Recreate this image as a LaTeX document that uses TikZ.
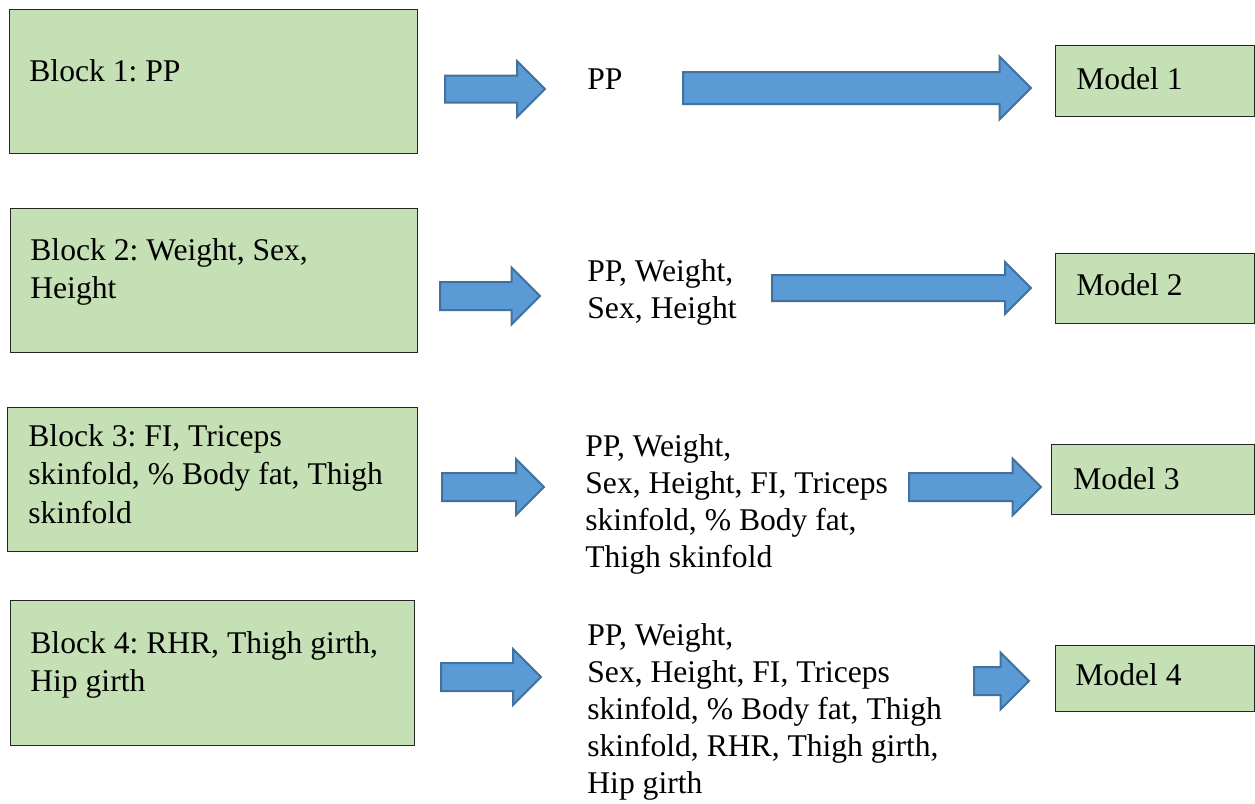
\documentclass[tikz,border=0pt]{standalone}
\usepackage{fontspec}
\setmainfont{LiberationSerif}[Extension=.ttf, UprightFont=*-Regular, BoldFont=*-Bold]
\usetikzlibrary{shapes.arrows}
\definecolor{blockgreen}{HTML}{C5E0B4}
\definecolor{arrowblue}{HTML}{5B9BD5}
\definecolor{arrowedge}{HTML}{41719C}
\frenchspacing

\begin{document}
\begin{tikzpicture}[x=0.5pt, y=-0.5pt,
  box/.style={draw=black!85, line width=0.6pt, fill=blockgreen, rectangle, inner sep=0pt, anchor=north west},
  txt/.style={anchor=base west, inner sep=0pt, align=left, font=\rmfamily\fontsize{15.8pt}{19.25pt}\selectfont},
  midtxt/.style={txt, font=\rmfamily\fontsize{15.8pt}{18.5pt}\selectfont},
  fatarrow/.style={single arrow, draw=arrowedge, line width=1pt, fill=arrowblue, inner xsep=0pt, anchor=tail}]
\useasboundingbox (0,0) rectangle (1255,804);

% Row 1 (text nodes sit on the baseline of their last line)
\node[box, minimum width=204pt, minimum height=72pt] (blk1) at (9,9) {};
\node[txt] (blk1txt) at (29,81) {Block 1: PP};
\node[fatarrow, minimum height=50pt, inner ysep=6.25pt, single arrow head extend=7.25pt] (arr1a) at (444,89) {};
\node[midtxt] (var1) at (587,89) {PP};
\node[fatarrow, minimum height=174pt, inner ysep=7.5pt, single arrow head extend=7.75pt] (arr1b) at (682,88) {};
\node[box, minimum width=99.5pt, minimum height=35.5pt] (mdl1) at (1055,45) {};
\node[txt] (mdl1txt) at (1076,89) {Model 1};

% Row 2
\node[box, minimum width=203.5pt, minimum height=72pt] (blk2) at (10,208) {};
\node[txt] (blk2txt) at (30,298.5) {Block 2: Weight, Sex,\\Height};
\node[fatarrow, minimum height=50pt, inner ysep=6.5pt, single arrow head extend=7.25pt] (arr2a) at (439,296) {};
\node[midtxt] (var2) at (587,318) {PP, Weight,\\Sex, Height};
\node[fatarrow, minimum height=129.5pt, inner ysep=6pt, single arrow head extend=6.5pt] (arr2b) at (771,288) {};
\node[box, minimum width=99.5pt, minimum height=35pt] (mdl2) at (1055,253) {};
\node[txt] (mdl2txt) at (1076,295) {Model 2};

% Row 3
\node[box, minimum width=205pt, minimum height=72pt] (blk3) at (7,407) {};
\node[txt] (blk3txt) at (28,523) {Block 3: FI, Triceps\\skinfold, \% Body fat, Thigh\\skinfold};
\node[fatarrow, minimum height=51pt, inner ysep=6.5pt, single arrow head extend=7pt] (arr3a) at (441,487) {};
\node[midtxt] (var3) at (585,567) {PP, Weight,\\Sex, Height, FI, Triceps\\skinfold, \% Body fat,\\Thigh skinfold};
\node[fatarrow, minimum height=66pt, inner ysep=6.5pt, single arrow head extend=7.25pt] (arr3b) at (908,487) {};
\node[box, minimum width=101.5pt, minimum height=35pt] (mdl3) at (1051,444) {};
\node[txt] (mdl3txt) at (1073,489) {Model 3};

% Row 4
\node[box, minimum width=202pt, minimum height=72.5pt] (blk4) at (10,600) {};
\node[txt] (blk4txt) at (30,691.5) {Block 4: RHR, Thigh girth,\\Hip girth};
\node[fatarrow, minimum height=50pt, inner ysep=6.5pt, single arrow head extend=7pt] (arr4a) at (440,677) {};
\node[midtxt] (var4) at (587,793) {PP, Weight,\\Sex, Height, FI, Triceps\\skinfold, \% Body fat, Thigh\\skinfold, RHR, Thigh girth,\\Hip girth};
\node[fatarrow, minimum height=27.5pt, inner ysep=6.5pt, single arrow head extend=7.25pt] (arr4b) at (973,681) {};
\node[box, minimum width=99.5pt, minimum height=33pt] (mdl4) at (1055,645) {};
\node[txt] (mdl4txt) at (1075,685) {Model 4};
\end{tikzpicture}
\end{document}
